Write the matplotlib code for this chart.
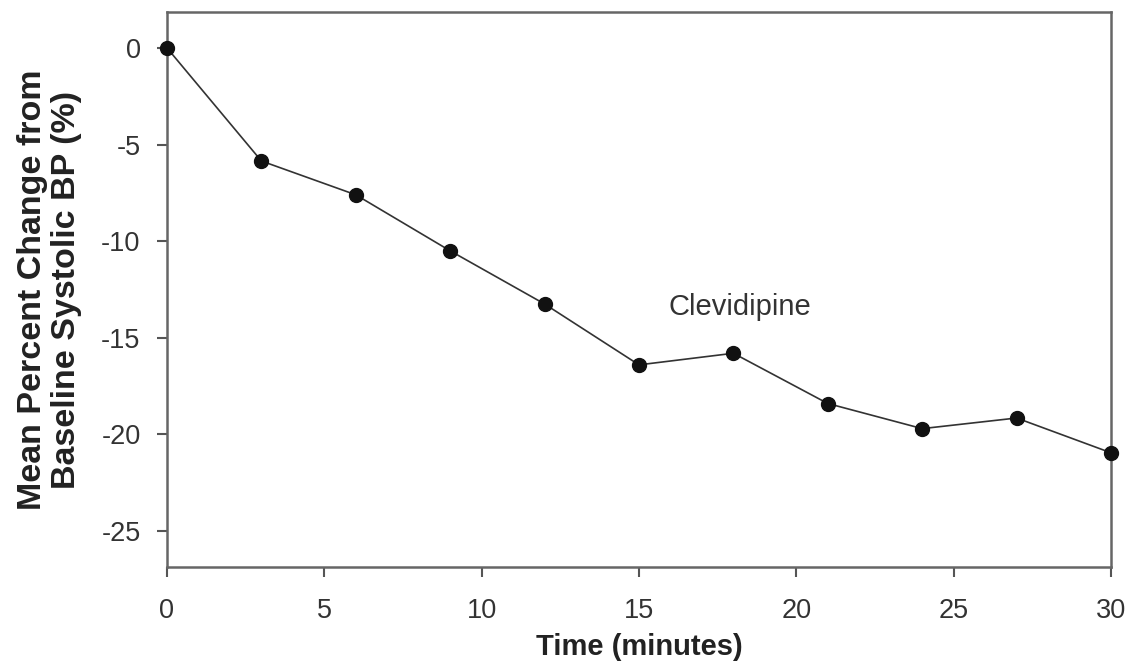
import numpy as np
import matplotlib.pyplot as plt

plt.rcParams['font.family'] = ['Liberation Sans', 'DejaVu Sans']
plt.rcParams['axes.unicode_minus'] = False

time_min = [0, 3, 6, 9, 12, 15, 18, 21, 24, 27, 30]
pct_change = [0, -5.85, -7.6, -10.5, -13.25, -16.4, -15.8, -18.4, -19.7, -19.15, -20.95]
xticks = [0, 5, 10, 15, 20, 25, 30]
yticks = [0, -5, -10, -15, -20, -25]

fig = plt.figure(figsize=(11.31, 6.66), dpi=100)
ax = fig.add_axes([167/1131, 1 - 567/666, (1111-167)/1131, (567-12)/666])

ax.plot(time_min, pct_change, color='#333333', lw=1.2, marker='o', ms=10,
        mfc='#111111', mec='#111111', clip_on=False, zorder=3)
ax.text(18.2, -13.4, 'Clevidipine', fontsize=21, color='#333333', ha='center', va='center')

ax.set_xlim(0, 30)
ax.set_ylim(-26.86, 1.86)
ax.set_xticks(xticks)
ax.set_yticks(yticks)
ax.tick_params(axis='both', labelsize=19.5, colors='#555555', labelcolor='#333333',
               length=7, width=1.5, direction='out')
ax.tick_params(axis='x', pad=15)
ax.tick_params(axis='y', pad=12)
for s in ax.spines.values():
    s.set_color('#666666')
    s.set_linewidth(1.8)

ax.set_xlabel('Time (minutes)', fontsize=21, fontweight='bold', color='#222222', labelpad=7)
ax.set_ylabel('Mean Percent Change from\nBaseline Systolic BP (%)', fontsize=24.5,
              fontweight='bold', color='#222222', labelpad=14, linespacing=1.1)

plt.savefig('out.png', dpi=100)
